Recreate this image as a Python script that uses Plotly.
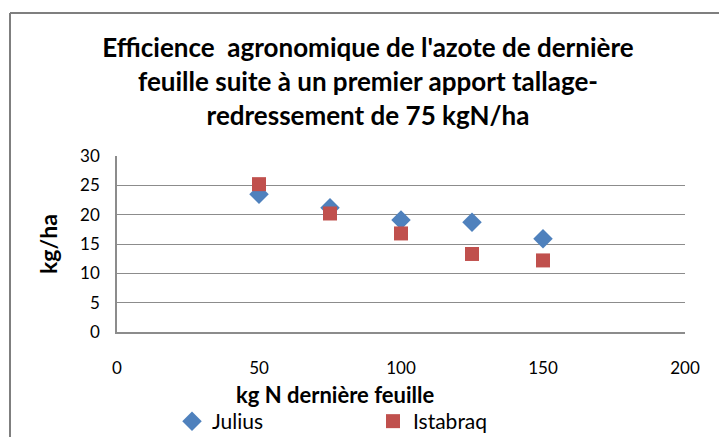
import plotly.graph_objects as go

x_vals = [50, 75, 100, 125, 150]
julius = [23.5, 21.2, 19.1, 18.7, 15.9]
istabraq = [25.2, 20.2, 16.8, 13.3, 12.2]
x_ticks = [0, 50, 100, 150, 200]
y_ticks = [0, 5, 10, 15, 20, 25, 30]

FONT = "Lato, Carlito, Calibri, sans-serif"
GRID = "#8c8c8c"

fig = go.Figure()
fig.add_trace(go.Scatter(x=x_vals, y=julius, mode="markers", name="Julius",
                         marker=dict(symbol="diamond", size=15, color="#4F81BD")))
fig.add_trace(go.Scatter(x=x_vals, y=istabraq, mode="markers", name="Istabraq",
                         marker=dict(symbol="square", size=14, color="#C0504D")))

L, R, T, B = 117, 34, 156, 105
W, H = 719, 437
pw, ph = W - L - R, H - T - B

def px2x(px):
    return (px - L) / pw

def py2y(py):
    return (H - B - py) / ph

fig.update_layout(
    width=W, height=H,
    margin=dict(l=L, r=R, t=T, b=B, autoexpand=False),
    paper_bgcolor="white", plot_bgcolor="white",
    font=dict(family=FONT, color="black", size=16),
    title=dict(
        text="Efficience  agronomique de l'azote de dernière<br>feuille suite à un premier apport tallage-<br>redressement de 75 kgN/ha",
        font=dict(family=FONT, size=26, color="black", weight="bold"),
        x=px2x(368), xanchor="center", xref="paper",
        y=1 - 57 / H, yanchor="top", yref="container",
    ),
    xaxis=dict(range=[0, 200], tickvals=x_ticks, showgrid=False, zeroline=False,
               showline=True, linecolor=GRID, linewidth=2,
               ticks="", ticklabelstandoff=20,
               tickfont=dict(size=17, family=FONT)),
    yaxis=dict(range=[0, 30], tickvals=y_ticks, showgrid=True, gridcolor=GRID,
               gridwidth=1.3, zeroline=False, showline=True, linecolor=GRID,
               linewidth=1.5, ticks="", ticklabelstandoff=12,
               tickfont=dict(size=17, family=FONT)),
    showlegend=True,
    legend=dict(orientation="h", x=px2x(172), xanchor="left",
                y=py2y(401), yanchor="top", entrywidth=156,
                font=dict(size=21, family=FONT), itemwidth=30,
                bgcolor="rgba(0,0,0,0)"),
)

fig.add_annotation(text="<b>kg N dernière feuille</b>", xref="paper", yref="paper",
                   x=px2x(335), y=py2y(394), xanchor="center", yanchor="middle",
                   showarrow=False, font=dict(size=22, family=FONT))
fig.add_annotation(text="<b>kg/ha</b>", xref="paper", yref="paper",
                   x=px2x(48), y=py2y(244), xanchor="center", yanchor="middle",
                   textangle=-90, showarrow=False, font=dict(size=23, family=FONT))

# chart-area border (top and left edges visible in the frame)
fig.add_shape(type="line", xref="paper", yref="paper",
              x0=px2x(10), x1=px2x(730), y0=py2y(13), y1=py2y(13),
              line=dict(color="#7f7f7f", width=2))
fig.add_shape(type="line", xref="paper", yref="paper",
              x0=px2x(10), x1=px2x(10), y0=py2y(13), y1=py2y(450),
              line=dict(color="#7f7f7f", width=2))

fig.write_html("out.html", config={"displayModeBar": False},
               post_script="document.body.style.margin='0';document.body.style.overflow='hidden';")
